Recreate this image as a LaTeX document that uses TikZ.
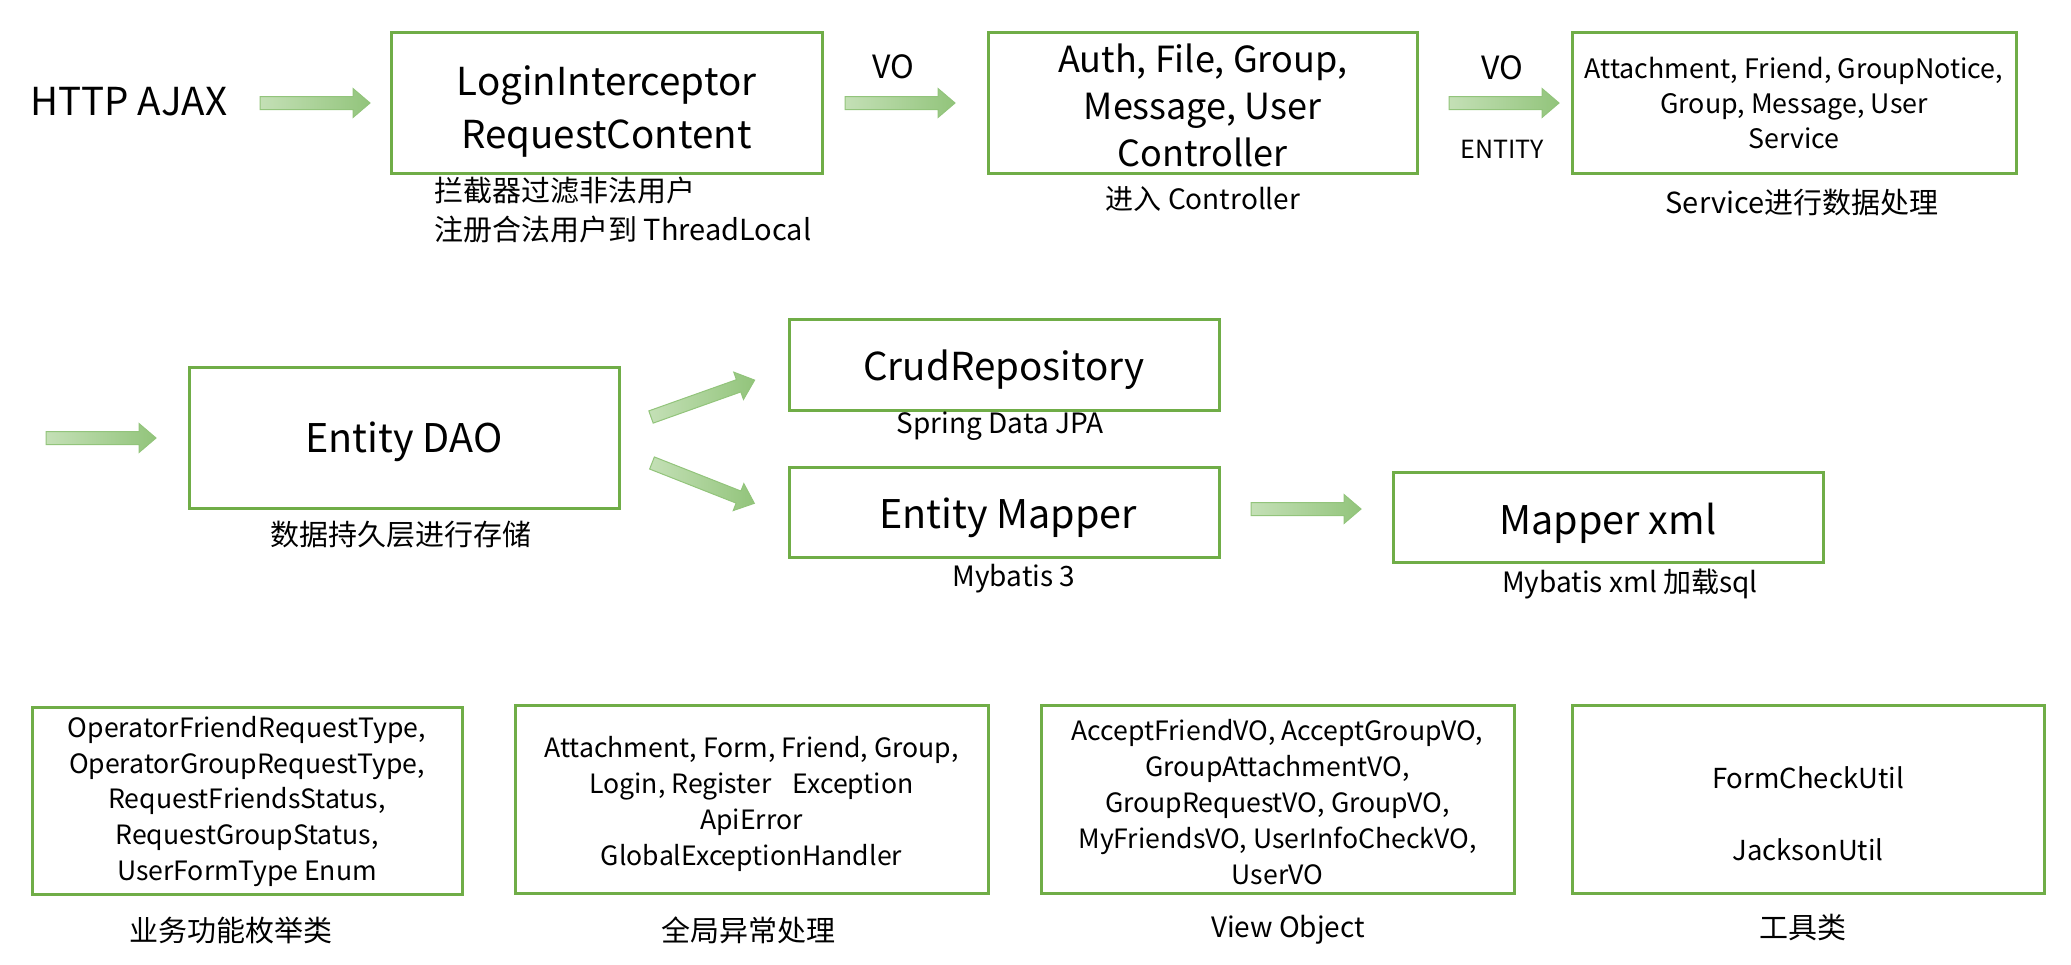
\documentclass[tikz,border=0pt]{standalone}
\usepackage{fontspec}
\setmainfont{Noto Sans CJK SC}
\definecolor{bgreen}{HTML}{70AD47}
\definecolor{alight}{HTML}{C4E0B6}
\definecolor{adark}{HTML}{92C47B}
\begin{document}
\begin{tikzpicture}[x=1pt,y=-1pt,
  box/.style={draw=bgreen, line width=3pt, inner sep=0pt},
  lbl/.style={align=center, inner sep=0pt},
  fa/.style={font={\fontsize{38.5}{53}\selectfont}},
  fb/.style={font={\fontsize{39.5}{50}\selectfont}},
  fc/.style={font={\fontsize{36}{47}\selectfont}},
  fvo/.style={font={\fontsize{32}{40}\selectfont}},
  fcap/.style={font={\fontsize{29}{38.5}\selectfont}},
  fcap2/.style={font={\fontsize{28}{35}\selectfont}},
  fsvc/.style={font={\fontsize{26.8}{35}\selectfont}},
  frow/.style={font={\fontsize{26.6}{35.8}\selectfont}},
  fent/.style={font={\fontsize{25}{30}\selectfont}},
  blockarrow/.pic={
    \shade[left color=alight, right color=adark, draw=adark, line width=1pt]
      (0,-6.5) -- (93,-6.5) -- (93,-14.5) -- (110,0) -- (93,14.5) -- (93,6.5) -- (0,6.5) -- cycle;
  }]
\useasboundingbox (0,0) rectangle (2071,964);

% Row 1
\node[lbl,fa] (http) at (129,102) {HTTP AJAX};
\pic (a1) at (260,103) {blockarrow};
\node[box,minimum width=431,minimum height=141] (login) at (606.5,102.5) {};
\node[lbl,fa] (logint) at ([yshift=-9pt]login.center) {LoginInterceptor\\RequestContent};
\node[lbl,fcap,align=left,anchor=north west] (loginc) at (434,177) {拦截器过滤非法用户\\注册合法用户到 ThreadLocal};
\node[lbl,fvo] (vo1) at (893,67) {VO};
\pic (a2) at (845,103) {blockarrow};
\node[box,minimum width=429,minimum height=141] (ctrl) at (1202.5,102.5) {};
\node[lbl,fc] (ctrlt) at ([yshift=-3pt]ctrl.center) {Auth, File, Group,\\Message, User\\Controller};
\node[lbl,fcap2] (ctrlc) at (1203,199) {进入 Controller};
\node[lbl,fvo] (vo2) at (1502,68) {VO};
\pic (a3) at (1449,103) {blockarrow};
\node[lbl,fent] (entity) at (1502,149) {ENTITY};
\node[box,minimum width=444,minimum height=141] (svc) at (1794,102.5) {};
\node[lbl,fsvc] (svct) at ([yshift=-1pt]svc.center) {Attachment, Friend, GroupNotice,\\Group, Message, User\\Service};
\node[lbl,fcap] (svcc) at (1802,203) {Service进行数据处理};

% Row 2
\pic (a4) at (46,438) {blockarrow};
\node[box,minimum width=430,minimum height=141] (dao) at (404,437.5) {};
\node[lbl,fb] (daot) at ([yshift=-4pt]dao.center) {Entity DAO};
\node[lbl,fcap] (daoc) at (401,535) {数据持久层进行存储};
\pic[rotate=19.6] (a5) at (651,417) {blockarrow};
\pic[rotate=-21.5] (a6) at (652,463) {blockarrow};
\node[box,minimum width=430,minimum height=91] (crud) at (1004,364.5) {};
\node[lbl,font={\fontsize{38.5}{46}\selectfont}] (crudt) at ([yshift=-5pt]crud.center) {CrudRepository};
\node[lbl,fcap2] (crudc) at (1000,426) {Spring Data JPA};
\node[box,minimum width=430,minimum height=90] (mapper) at (1004,512) {};
\node[lbl,fb] (mappert) at ([xshift=4pt,yshift=-6pt]mapper.center) {Entity Mapper};
\node[lbl,fcap2] (mapperc) at (1014,579) {Mybatis 3};
\pic (a7) at (1251,509) {blockarrow};
\node[box,minimum width=430,minimum height=90] (xml) at (1608,517) {};
\node[lbl,fb] (xmlt) at ([yshift=-6pt]xml.center) {Mapper xml};
\node[lbl,fcap2] (xmlc) at (1630,584) {Mybatis xml 加载sql};

% Row 3
\node[box,minimum width=430,minimum height=187] (enum) at (247,800.5) {};
\node[lbl,frow] (enumt) at ([yshift=-1pt]enum.center) {OperatorFriendRequestType,\\OperatorGroupRequestType,\\RequestFriendsStatus,\\RequestGroupStatus,\\UserFormType Enum};
\node[lbl,fcap] (enumc) at (231,930) {业务功能枚举类};
\node[box,minimum width=473,minimum height=188] (exc) at (751.5,799) {};
\node[lbl,frow] (exct) at ([yshift=-5pt]exc.center) {Attachment, Form, Friend, Group,\\Login, Register\hspace{0.8em}Exception\\ApiError\\GlobalExceptionHandler};
\node[lbl,fcap] (excc) at (748,930) {全局异常处理};
\node[box,minimum width=473,minimum height=188] (vo) at (1277.5,799) {};
\node[lbl,frow] (vot) at ([yshift=-3pt]vo.center) {AcceptFriendVO, AcceptGroupVO,\\GroupAttachmentVO,\\GroupRequestVO, GroupVO,\\MyFriendsVO, UserInfoCheckVO,\\UserVO};
\node[lbl,fcap2] (voc) at (1288,930) {View Object};
\node[box,minimum width=472,minimum height=188] (util) at (1808,799) {};
\node[lbl,font={\fontsize{27.5}{36}\selectfont}] (utilt) at ([yshift=-15pt]util.center) {FormCheckUtil\\[36pt]JacksonUtil};
\node[lbl,fcap] (utilc) at (1803,927) {工具类};
\end{tikzpicture}
\end{document}
